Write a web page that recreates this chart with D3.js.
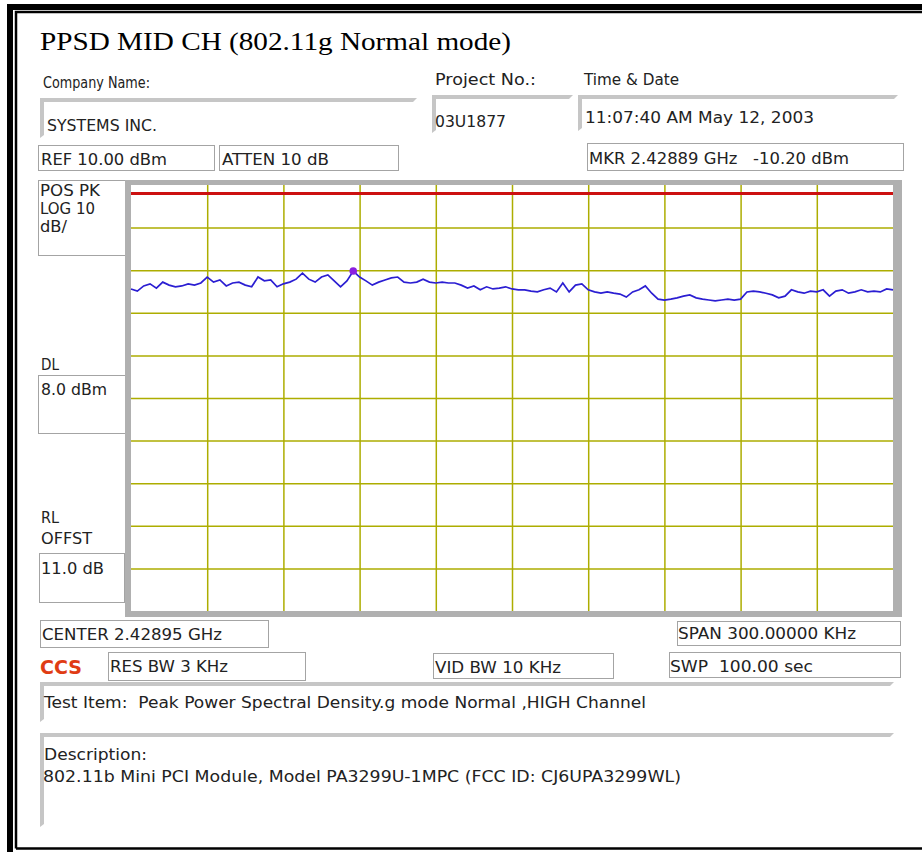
<!DOCTYPE html>
<html>
<head>
<meta charset="utf-8">
<script src="https://cdnjs.cloudflare.com/ajax/libs/d3/7.8.5/d3.min.js"></script>
<style>
  body { margin: 0; background: #fff; }
  svg text { white-space: pre; }
</style>
</head>
<body>
<div class="canvas"></div>
<script>
// analyzer settings
const centerGHz = 2.42895;
const spanKHz = 300;
const refDbm = 10;
const dbPerDiv = 10;
const divisions = 10;
const displayLineDbm = 8.0;
const markerGHz = 2.4288875;
const markerDbm = -10.20;

// trace levels (dBm), one per sweep point
const traceLevels = [
  -14.4, -14.9, -13.7, -13.2, -14.2, -12.8, -13.5, -13.9, -13.7, -13.2,
  -13.5, -13.0, -11.6, -12.8, -12.3, -13.7, -13.0, -12.8, -13.5, -13.9,
  -11.6, -12.5, -12.3, -13.9, -13.2, -12.8, -12.1, -10.7, -12.1, -12.8,
  -11.6, -11.1, -12.5, -13.9, -12.5, -10.2, -11.6, -12.5, -13.5, -12.8,
  -12.3, -11.8, -11.6, -12.8, -13.0, -12.8, -12.1, -12.8, -13.0, -12.8,
  -13.0, -13.0, -13.5, -14.2, -13.7, -14.6, -13.9, -14.4, -14.2, -13.9,
  -14.4, -14.6, -14.6, -14.9, -15.1, -14.6, -14.2, -15.1, -13.0, -15.1,
  -13.5, -13.2, -14.6, -15.1, -15.4, -15.1, -15.4, -15.6, -16.3, -15.1,
  -14.6, -13.7, -15.4, -16.8, -17.0, -16.8, -16.5, -16.1, -15.8, -16.5,
  -16.8, -17.0, -17.2, -17.0, -16.8, -17.0, -16.8, -15.1, -14.9, -15.1,
  -15.4, -15.8, -16.5, -16.1, -14.6, -15.1, -15.4, -14.9, -15.1, -14.6,
  -16.1, -14.9, -14.6, -15.4, -15.1, -14.6, -15.1, -14.9, -15.1, -14.4,
  -14.6
];

const titleText = 'PPSD MID CH (802.11g Normal mode)';
const companyName = 'SYSTEMS INC.';
const projectNo = '03U1877';
const timeDate = '11:07:40 AM May 12, 2003';
const testItem = 'Test Item:  Peak Power Spectral Density.g mode Normal ,HIGH Channel';
const description = '802.11b Mini PCI Module, Model PA3299U-1MPC (FCC ID: CJ6UPA3299WL)';

const svg = d3.select('.canvas')
    .append('svg')
    .attr('width', 922)
    .attr('height', 852);

// outer double frame
svg.append('path')
    .attr('d', 'M10,860 V7 H930')
    .attr('fill', 'none').attr('stroke', '#000').attr('stroke-width', 6);
svg.append('path')
    .attr('d', 'M16,848.5 V12 H930 M16,848.5 H930')
    .attr('fill', 'none').attr('stroke', '#000').attr('stroke-width', 2.5);

// sunken field bevels (gray top + left edge)
const bevels = [
    { x0: 40, x1: 417, y0: 98, y1: 138 },
    { x0: 432, x1: 573, y0: 95, y1: 133 },
    { x0: 578, x1: 898, y0: 95, y1: 131 },
    { x0: 40, x1: 894, y0: 682, y1: 722 },
    { x0: 40, x1: 894, y0: 733, y1: 827 }
];
bevels.forEach(b => {
    svg.append('path')
        .attr('d', `M${b.x0},${b.y1} V${b.y0} H${b.x1} L${b.x1 - 4},${b.y0 + 4} H${b.x0 + 4} V${b.y1 - 3} Z`)
        .attr('fill', '#c6c6c6');
});

// thin outlined boxes
const boxes = [
    [38, 145, 214, 170], [219, 145, 398, 170], [587, 143, 903, 170],
    [38, 180, 125, 255], [38, 375, 125, 433], [39, 553, 124, 602],
    [40, 620, 268, 647], [677, 621, 900, 645],
    [108, 652, 305, 680], [433, 653, 613, 678], [669, 652, 900, 677]
];
svg.selectAll('rect.box')
    .data(boxes)
    .enter()
    .append('rect')
    .attr('class', 'box')
    .attr('x', d => d[0] + 0.5)
    .attr('y', d => d[1] + 0.5)
    .attr('width', d => d[2] - d[0])
    .attr('height', d => d[3] - d[1])
    .attr('fill', 'none')
    .attr('stroke', '#a4a4a4')
    .attr('stroke-width', 1);

// plot area
const plot = { left: 131, top: 185, right: 893, bottom: 611 };
svg.append('rect')
    .attr('x', 125).attr('y', 180)
    .attr('width', 902 - 125).attr('height', 617 - 180)
    .attr('fill', '#b0b0b0');
svg.append('rect')
    .attr('x', plot.left).attr('y', plot.top)
    .attr('width', plot.right - plot.left).attr('height', plot.bottom - plot.top)
    .attr('fill', '#ffffff');

const startGHz = centerGHz - spanKHz / 2 / 1e6;
const stopGHz = centerGHz + spanKHz / 2 / 1e6;

const x = d3.scaleLinear()
    .domain([startGHz, stopGHz])
    .range([plot.left, plot.right]);
const y = d3.scaleLinear()
    .domain([refDbm, refDbm - dbPerDiv * divisions])
    .range([plot.top, plot.bottom]);

const freqTicks = d3.range(1, divisions).map(i => startGHz + i * (stopGHz - startGHz) / divisions);
const levelTicks = d3.range(1, divisions).map(i => refDbm - i * dbPerDiv);

const gridX = svg.append('g')
    .attr('transform', `translate(0, ${plot.bottom})`)
    .call(d3.axisBottom(x).tickValues(freqTicks).tickSize(-(plot.bottom - plot.top)).tickFormat(''));
const gridY = svg.append('g')
    .attr('transform', `translate(${plot.left}, 0)`)
    .call(d3.axisLeft(y).tickValues(levelTicks).tickSize(-(plot.right - plot.left)).tickFormat(''));
[gridX, gridY].forEach(g => {
    g.select('.domain').remove();
    g.selectAll('line').attr('stroke', '#adad00').attr('stroke-width', 1.5);
});

// display line
svg.append('line')
    .attr('x1', plot.left).attr('x2', plot.right)
    .attr('y1', y(displayLineDbm)).attr('y2', y(displayLineDbm))
    .attr('stroke', '#cc1010').attr('stroke-width', 3);

// trace
const n = traceLevels.length;
const traceData = traceLevels.map((v, i) => ({ f: startGHz + i * (stopGHz - startGHz) / (n - 1), v }));
const line = d3.line()
    .x(d => x(d.f))
    .y(d => y(d.v));
svg.append('path')
    .datum(traceData)
    .attr('d', line)
    .attr('fill', 'none')
    .attr('stroke', '#2b1ed2')
    .attr('stroke-width', 1.7)
    .attr('stroke-linejoin', 'miter');

// marker
svg.append('circle')
    .attr('cx', x(markerGHz))
    .attr('cy', y(markerDbm))
    .attr('r', 3.8)
    .attr('fill', '#8a1fe0');

// texts
const labels = [
    { t: titleText, x: 40, y: 50, w: 471, serif: true },
    { t: 'Company Name:', x: 43, y: 88, w: 107 },
    { t: 'Project No.:', x: 435, y: 85, w: 101 },
    { t: 'Time & Date', x: 584, y: 85, w: 95 },
    { t: companyName, x: 47, y: 131, w: 110 },
    { t: projectNo, x: 435, y: 127, w: 71 },
    { t: timeDate, x: 585, y: 123, w: 229 },
    { t: 'REF 10.00 dBm', x: 41, y: 165, w: 126 },
    { t: 'ATTEN 10 dB', x: 222, y: 165, w: 107 },
    { t: `MKR ${markerGHz.toFixed(5)} GHz   ${markerDbm.toFixed(2)} dBm`, x: 589, y: 164, w: 260 },
    { t: 'POS PK', x: 40, y: 196, w: 60 },
    { t: 'LOG ' + dbPerDiv, x: 40, y: 214, w: 55 },
    { t: 'dB/', x: 40, y: 232, w: 27 },
    { t: 'DL', x: 41, y: 370, w: 18 },
    { t: displayLineDbm.toFixed(1) + ' dBm', x: 41, y: 395, w: 66 },
    { t: 'RL', x: 41, y: 523, w: 18 },
    { t: 'OFFST', x: 41, y: 544, w: 51 },
    { t: '11.0 dB', x: 41, y: 574, w: 63 },
    { t: `CENTER ${centerGHz.toFixed(5)} GHz`, x: 42, y: 640, w: 180 },
    { t: `SPAN ${spanKHz.toFixed(5)} KHz`, x: 678, y: 639, w: 178 },
    { t: 'RES BW 3 KHz', x: 110, y: 672, w: 118 },
    { t: 'VID BW 10 KHz', x: 435, y: 673, w: 126 },
    { t: 'SWP  100.00 sec', x: 670, y: 672, w: 143 },
    { t: testItem, x: 44, y: 708, w: 602 },
    { t: 'Description:', x: 44, y: 760, w: 103 },
    { t: description, x: 43, y: 782, w: 638 }
];

svg.selectAll('text.lbl')
    .data(labels)
    .enter()
    .append('text')
    .attr('class', 'lbl')
    .attr('x', d => d.x)
    .attr('y', d => d.y)
    .attr('textLength', d => d.w)
    .attr('lengthAdjust', 'spacingAndGlyphs')
    .attr('font-family', d => d.serif ? '"Liberation Serif", "Times New Roman", serif' : '"DejaVu Sans", Verdana, sans-serif')
    .attr('font-size', d => d.serif ? 25 : 15)
    .attr('fill', d => d.serif ? '#000' : '#222')
    .text(d => d.t);

svg.append('text')
    .attr('x', 40).attr('y', 674)
    .attr('textLength', 42)
    .attr('lengthAdjust', 'spacingAndGlyphs')
    .attr('font-family', '"DejaVu Sans", Verdana, sans-serif')
    .attr('font-weight', 'bold')
    .attr('font-size', 19)
    .attr('fill', '#e03c14')
    .text('CCS');
</script>
</body>
</html>
